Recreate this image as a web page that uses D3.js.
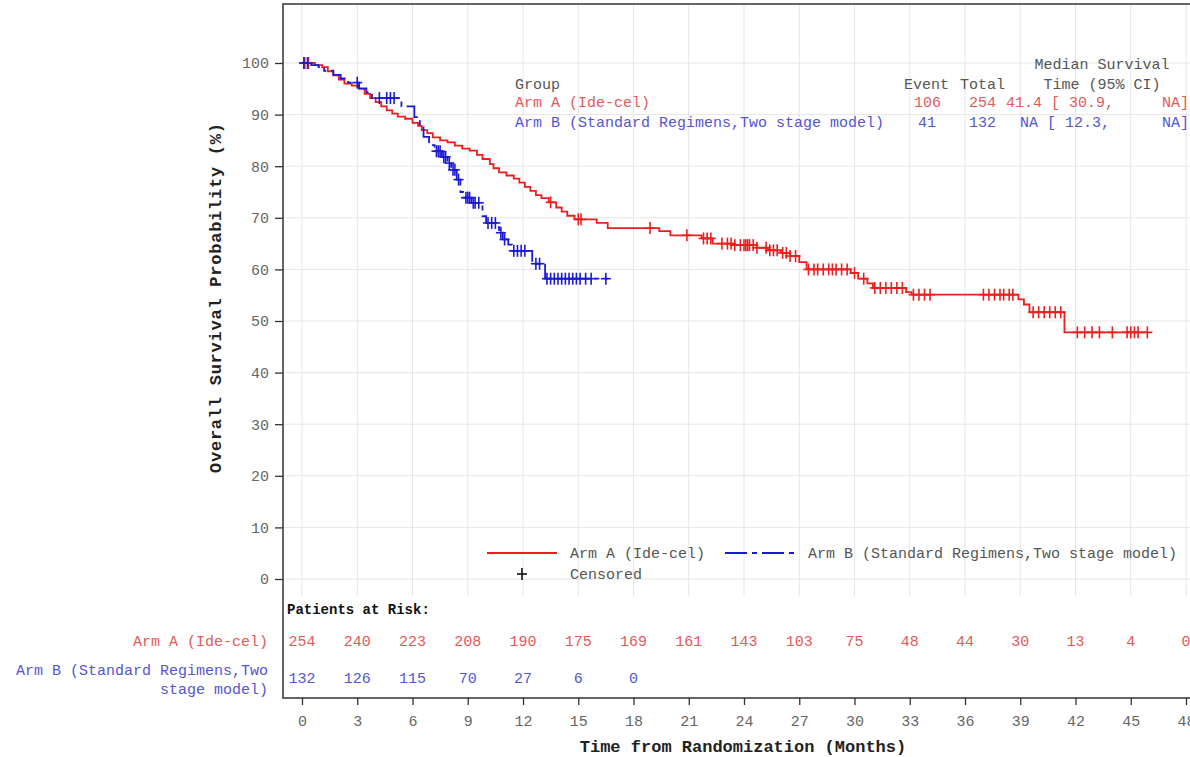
<!DOCTYPE html>
<html><head><meta charset="utf-8">
<script src="https://cdn.jsdelivr.net/npm/d3@7"></script>
<style>body{margin:0;background:#fff}svg{display:block}text{font-family:"Liberation Mono","Courier New",monospace}</style>
</head><body><svg id="c" width="1190" height="757"></svg>
<script>
// ---------- data ----------
const xTicks = [0,3,6,9,12,15,18,21,24,27,30,33,36,39,42,45,48];
const yTicks = [0,10,20,30,40,50,60,70,80,90,100];
const armA_steps = [[0,100],[0.7,99.6],[1.1,99.2],[1.4,98.4],[1.7,97.6],[2.0,96.8],[2.3,96.0],[2.7,95.6],[3.1,95.0],[3.4,94.0],[3.7,93.2],[4.0,92.4],[4.3,91.6],[4.6,90.8],[4.9,90.2],[5.2,89.6],[5.6,89.2],[6.0,88.4],[6.3,87.8],[6.5,87.0],[6.8,86.4],[7.1,85.6],[7.5,85.0],[7.9,84.6],[8.3,84.0],[8.7,83.4],[9.1,83.0],[9.5,82.2],[9.8,81.4],[10.2,80.4],[10.4,79.6],[10.7,78.8],[11.1,78.2],[11.5,77.6],[11.8,76.8],[12.1,76.0],[12.4,75.2],[12.7,74.4],[13.0,73.8],[13.4,73.0],[13.8,72.0],[14.1,71.2],[14.4,70.4],[14.8,69.7],[16.0,69.0],[16.6,68.0],[19.4,67.4],[20.0,66.6],[21.7,66.0],[22.3,65.0],[23.4,64.7],[24.7,64.2],[25.3,63.7],[26.0,63.2],[26.5,62.6],[27.0,61.4],[27.4,60.0],[29.8,59.3],[30.2,58.2],[30.7,57.3],[31.0,56.4],[32.8,55.6],[33.1,55.1],[38.9,54.2],[39.2,53.2],[39.5,51.7],[41.4,47.8]];
const armA_end = 45.9;
const armA_censor = [0.15,0.35,13.5,15.0,15.15,18.9,20.9,21.8,22.0,22.2,22.8,23.1,23.3,23.5,23.8,24.0,24.1,24.2,24.3,24.5,24.7,25.2,25.4,25.6,25.8,26.1,26.3,26.5,26.8,27.5,27.8,28.0,28.3,28.6,28.8,29.0,29.3,29.6,30.0,30.5,31.1,31.4,31.7,32.0,32.3,32.6,33.2,33.5,33.8,34.1,37.0,37.3,37.6,37.9,38.1,38.4,38.6,39.7,40.0,40.3,40.6,40.9,41.2,42.1,42.5,42.9,43.3,44.0,44.8,45.0,45.2,45.4,45.9];
const armB_steps = [[0,100],[0.5,99.6],[0.9,99.2],[1.2,98.5],[1.7,97.7],[2.1,97.0],[2.5,96.2],[3.1,95.1],[3.5,94.3],[3.8,93.2],[5.4,91.6],[6.1,89.5],[6.4,87.5],[6.6,85.7],[6.9,84.1],[7.2,82.9],[7.6,81.8],[7.9,80.6],[8.1,79.3],[8.4,77.4],[8.6,75.0],[8.75,73.9],[9.2,72.9],[9.8,70.3],[10.0,69.0],[10.6,68.2],[10.7,67.1],[10.9,65.8],[11.2,64.8],[11.4,63.6],[12.5,61.1],[13.2,58.2]];
const armB_end = 16.6;
const armB_censor = [0.1,0.3,3.0,4.2,4.6,4.8,5.0,7.3,7.4,7.5,7.7,7.8,8.0,8.2,8.3,8.5,8.9,9.0,9.1,9.3,9.4,9.6,10.1,10.3,10.5,10.8,11.0,11.5,11.7,11.9,12.1,12.7,12.9,13.3,13.5,13.7,13.9,14.1,14.3,14.5,14.7,14.9,15.1,15.4,15.7,16.5];
const riskA = [254,240,223,208,190,175,169,161,143,103,75,48,44,30,13,4,0];
const riskB = [132,126,115,70,27,6,0];

// ---------- drawing ----------
const svg = d3.select("#c");
const RED = "#ee1e1e", BLUE = "#1a1ad6", REDT = "#e35a5a", BLUET = "#5555d2", GRAY = "#555";
const x = d3.scaleLinear([0,48],[302,1186]);
const y = d3.scaleLinear([0,100],[579,63]);
const L = 283, T = 4, R = 1191, B = 698, GB = 596;

// grid
svg.append("g").selectAll("line").data(xTicks).join("line")
  .attr("x1", d=>x(d)).attr("x2", d=>x(d)).attr("y1", T).attr("y2", GB)
  .attr("stroke", "#e6e6e6").attr("stroke-width", 1);
svg.append("g").selectAll("line").data(yTicks).join("line")
  .attr("x1", L).attr("x2", R).attr("y1", d=>y(d)).attr("y2", d=>y(d))
  .attr("stroke", "#e6e6e6").attr("stroke-width", 1);

// frame
svg.append("rect").attr("x", L).attr("y", T).attr("width", R-L).attr("height", B-T)
  .attr("fill", "none").attr("stroke", "#333").attr("stroke-width", 1.5);

// axes
const ya = svg.append("g").attr("transform", `translate(${L},0)`)
  .call(d3.axisLeft(y).tickValues(yTicks).tickSize(8).tickPadding(6));
const xa = svg.append("g").attr("transform", `translate(0,${B})`)
  .call(d3.axisBottom(x).tickValues(xTicks).tickSize(7).tickPadding(10));
[ya, xa].forEach(g => {
  g.select(".domain").remove();
  g.selectAll("line").attr("stroke", "#333").attr("stroke-width", 1.3);
  g.selectAll("text").attr("fill", "#666").style("font-size", "15px")
    .style("font-family", '"Liberation Mono",monospace');
});

// titles
svg.append("text").attr("x", 743).attr("y", 752).attr("text-anchor", "middle")
  .style("font-size", "17px").style("font-weight", "bold").attr("fill", "#222")
  .text("Time from Randomization (Months)");
svg.append("text").attr("transform", "translate(221,298) rotate(-90)").attr("text-anchor", "middle")
  .style("font-size", "17px").style("font-weight", "bold").attr("fill", "#222")
  .attr("textLength", 350).attr("lengthAdjust", "spacing")
  .text("Overall Survival Probability (%)");

// curves
function stepPts(steps, end) {
  const pts = steps.slice();
  pts.push([end, steps[steps.length-1][1]]);
  return pts;
}
function survAt(steps, t) {
  const i = d3.bisector(d => d[0]).right(steps, t) - 1;
  return steps[Math.max(0, i)][1];
}
const line = d3.line().x(d=>x(d[0])).y(d=>y(d[1])).curve(d3.curveStepAfter);
svg.append("path").attr("d", line(stepPts(armA_steps, armA_end)))
  .attr("fill", "none").attr("stroke", RED).attr("stroke-width", 1.8);
svg.append("path").attr("d", line(stepPts(armB_steps, armB_end)))
  .attr("fill", "none").attr("stroke", BLUE).attr("stroke-width", 1.8)
  .attr("stroke-dasharray", "22,5,5,5");

function censor(times, steps, color) {
  const g = svg.append("g").attr("stroke", color).attr("stroke-width", 1.6);
  times.forEach(t => {
    const cx = x(t), cy = y(survAt(steps, t));
    g.append("line").attr("x1", cx).attr("x2", cx).attr("y1", cy-6).attr("y2", cy+6);
    g.append("line").attr("x1", cx-5).attr("x2", cx+5).attr("y1", cy).attr("y2", cy);
  });
}
censor(armA_censor, armA_steps, RED);
censor(armB_censor, armB_steps, BLUE);

// top-right table
const tf = (xx, yy, txt, col, anchor) => svg.append("text").attr("x", xx).attr("y", yy)
  .attr("fill", col).attr("text-anchor", anchor || "start").style("font-size", "15px").text(txt);
tf(1102, 69, "Median Survival", GRAY, "middle");
tf(515, 89, "Group", GRAY);
tf(904, 89, "Event", GRAY);
tf(960, 89, "Total", GRAY);
tf(1102, 89, "Time (95% CI)", GRAY, "middle");
tf(515, 107, "Arm A (Ide-cel)", REDT);
tf(941, 107, "106", REDT, "end");
tf(996, 107, "254", REDT, "end");
tf(1006, 107, "41.4 [ 30.9,", REDT);
tf(1189, 107, "NA]", REDT, "end");
tf(515, 127, "Arm B (Standard Regimens,Two stage model)", BLUET);
tf(936, 127, "41", BLUET, "end");
tf(996, 127, "132", BLUET, "end");
tf(1020, 127, "NA [ 12.3,", BLUET);
tf(1189, 127, "NA]", BLUET, "end");

// bottom legend
svg.append("line").attr("x1", 487).attr("x2", 557).attr("y1", 553).attr("y2", 553)
  .attr("stroke", RED).attr("stroke-width", 1.8);
svg.append("line").attr("x1", 725).attr("x2", 795).attr("y1", 553).attr("y2", 553)
  .attr("stroke", BLUE).attr("stroke-width", 1.8).attr("stroke-dasharray", "22,5,5,5");
tf(570, 558, "Arm A (Ide-cel)", GRAY);
tf(808, 558, "Arm B (Standard Regimens,Two stage model)", GRAY);
tf(570, 579, "Censored", GRAY);
svg.append("line").attr("x1", 522).attr("x2", 522).attr("y1", 568).attr("y2", 580).attr("stroke", "#111").attr("stroke-width", 1.6);
svg.append("line").attr("x1", 517).attr("x2", 527).attr("y1", 574).attr("y2", 574).attr("stroke", "#111").attr("stroke-width", 1.6);

// at-risk table
svg.append("text").attr("x", 287).attr("y", 614).attr("fill", "#111")
  .style("font-size", "14px").style("font-weight", "bold").text("Patients at Risk:");
tf(268, 646, "Arm A (Ide-cel)", REDT, "end");
tf(268, 675, "Arm B (Standard Regimens,Two", BLUET, "end");
tf(268, 694, "stage model)", BLUET, "end");
svg.append("g").selectAll("text").data(riskA).join("text")
  .attr("x", (d,i)=>x(xTicks[i])).attr("y", 646).attr("text-anchor", "middle")
  .attr("fill", REDT).style("font-size", "15px").text(d=>d);
svg.append("g").selectAll("text").data(riskB).join("text")
  .attr("x", (d,i)=>x(xTicks[i])).attr("y", 683).attr("text-anchor", "middle")
  .attr("fill", BLUET).style("font-size", "15px").text(d=>d);
</script></body></html>
